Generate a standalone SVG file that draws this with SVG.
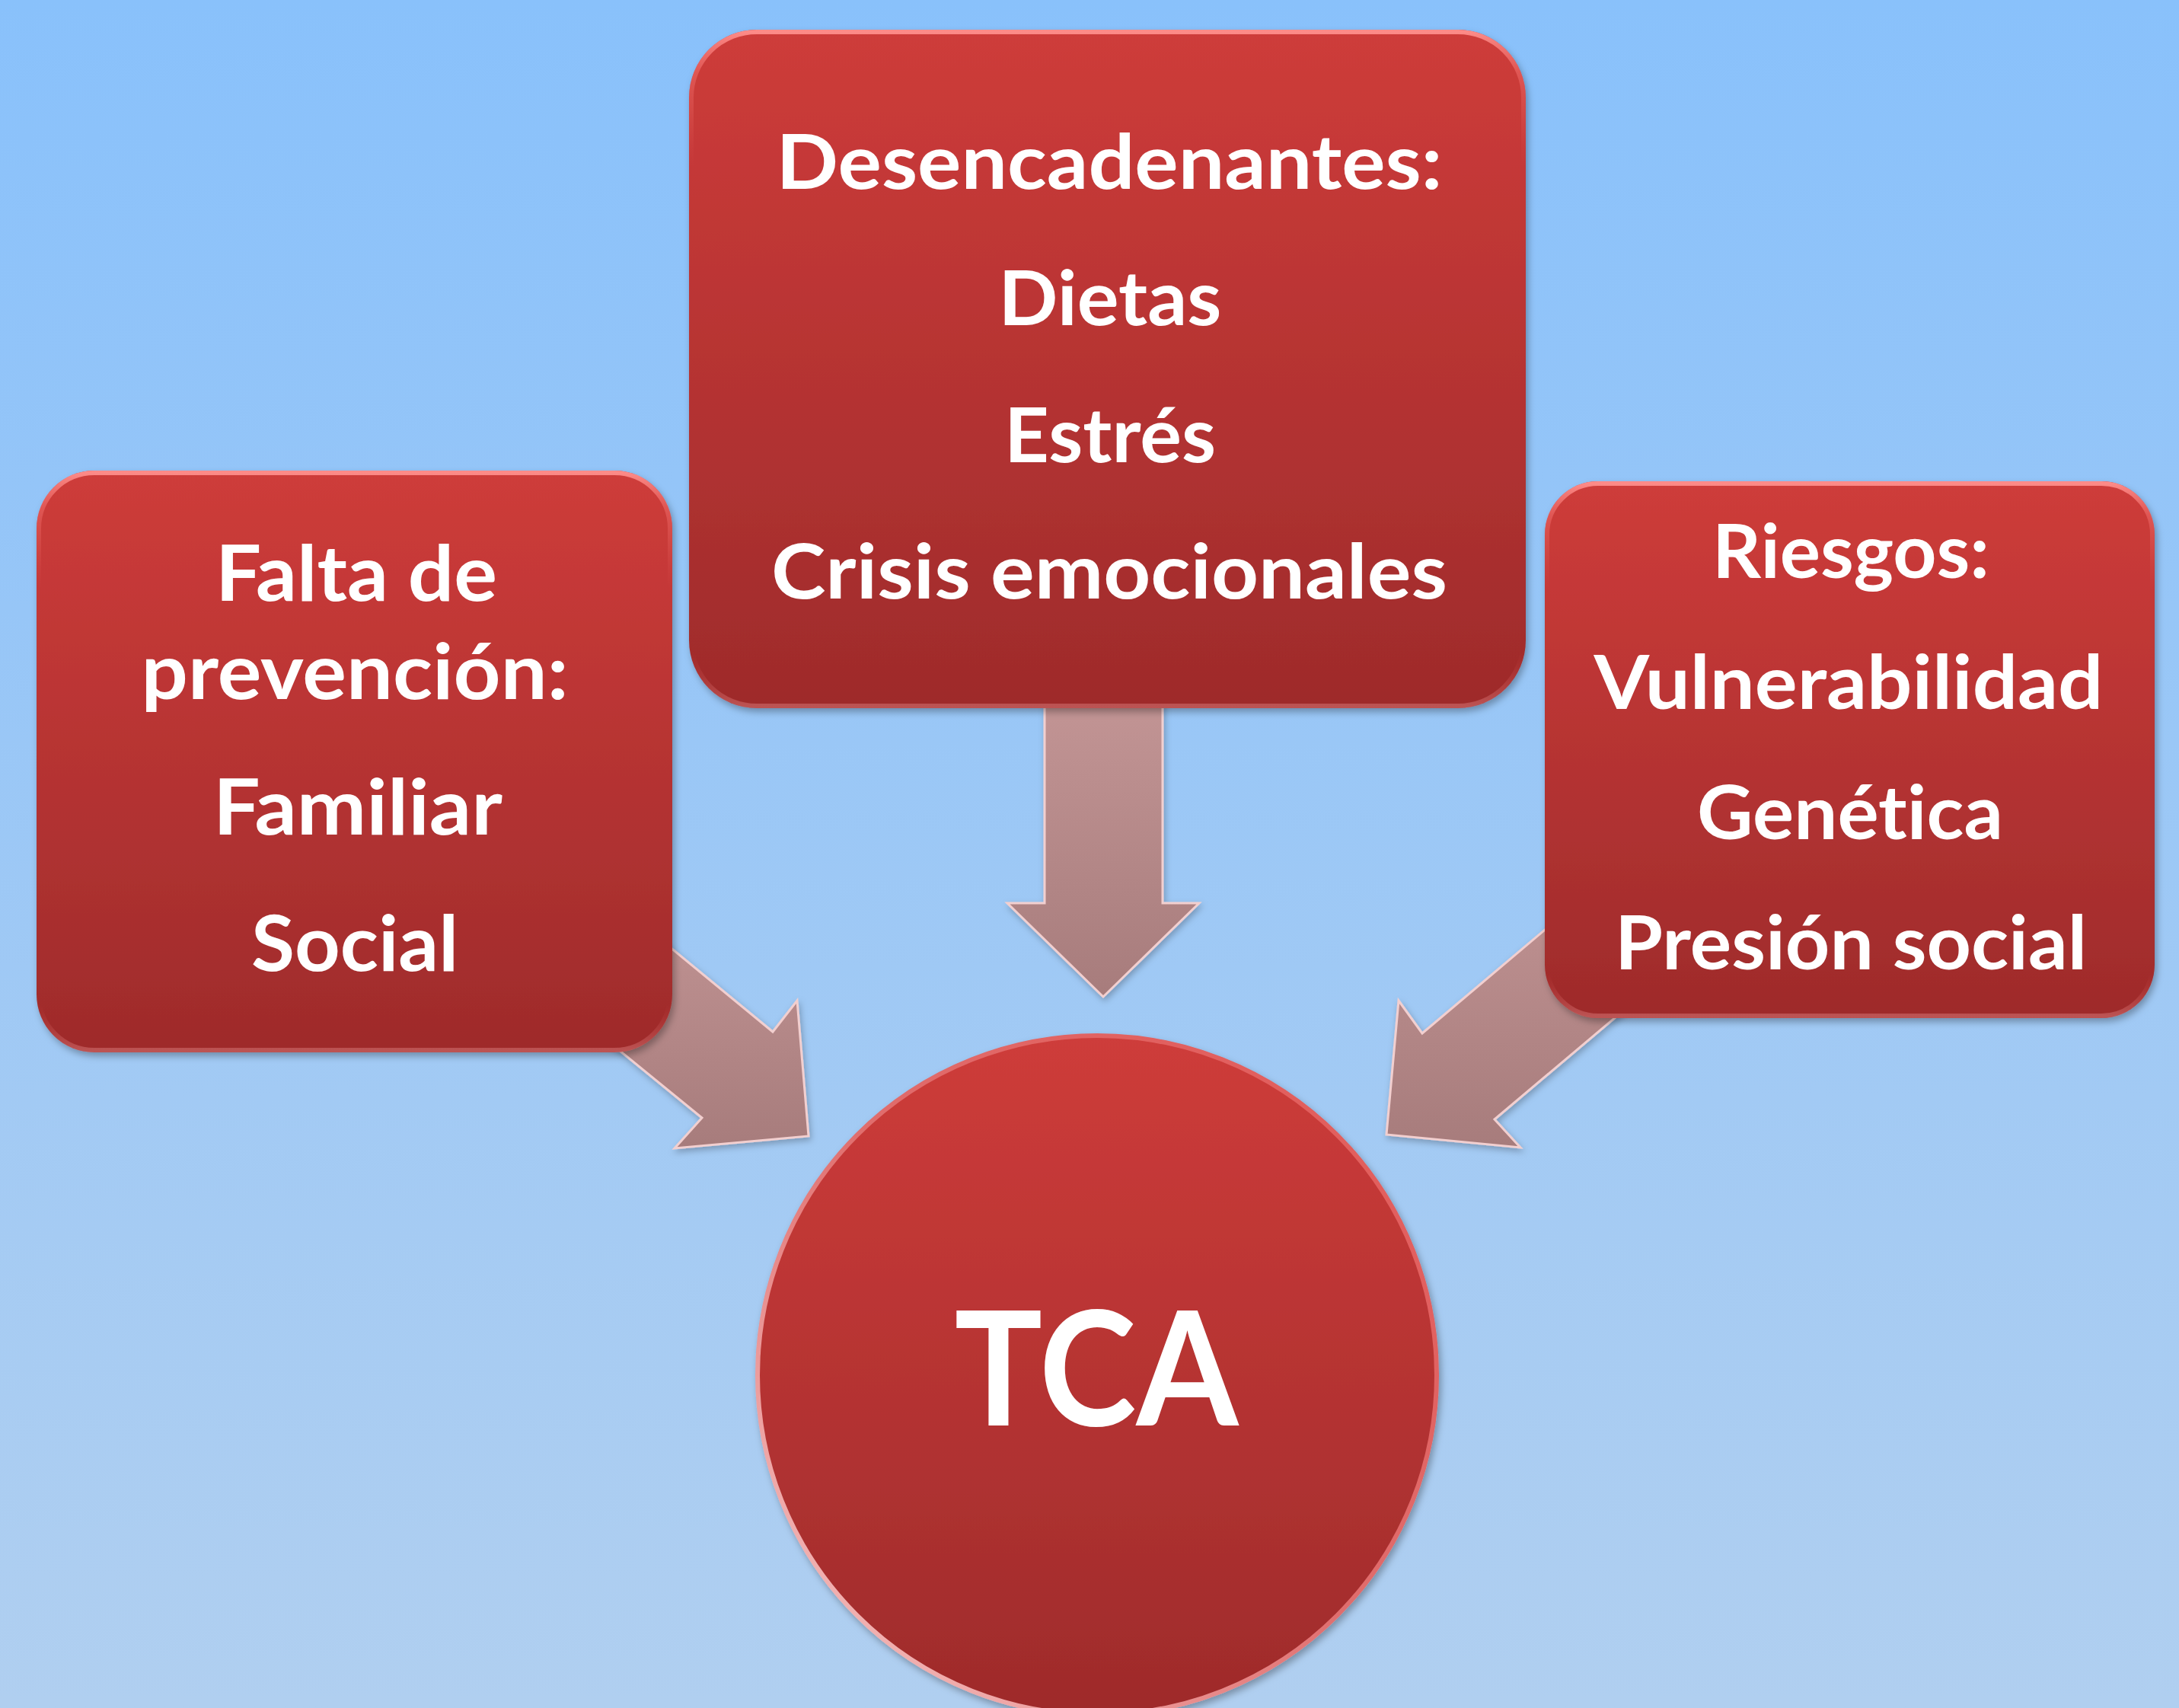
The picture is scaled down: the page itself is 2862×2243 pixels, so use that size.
<svg xmlns="http://www.w3.org/2000/svg" width="2862" height="2243" viewBox="0 0 2862 2243">
  <style>
    .lbl { font-family: Lato, "Open Sans", "Liberation Sans", sans-serif; font-weight: 700; fill: #FFFFFF; text-anchor: middle; font-variant-ligatures: none; font-feature-settings: "liga" 0, "clig" 0; }
    .box { fill: url(#red); filter: url(#sh); }
    .rim { fill: none; stroke: url(#rimGrad); stroke-width: 6; }
    .arrow { fill: url(#arrowGrad); stroke: #F2CFCF; stroke-width: 3; stroke-linejoin: miter; filter: url(#sh2); }
  </style>
  <defs>
    <linearGradient id="bg" x1="0" y1="0" x2="0" y2="1">
      <stop offset="0" stop-color="#89C1FB"/>
      <stop offset="1" stop-color="#B0CFF0"/>
    </linearGradient>
    <linearGradient id="red" x1="0" y1="0" x2="0" y2="1">
      <stop offset="0" stop-color="#CE3C3A"/>
      <stop offset="1" stop-color="#9E2B2B"/>
    </linearGradient>
    <linearGradient id="rimGrad" x1="0" y1="0" x2="0" y2="1">
      <stop offset="0" stop-color="#FF8F8C" stop-opacity="0.95"/>
      <stop offset="0.06" stop-color="#F47270" stop-opacity="0.5"/>
      <stop offset="0.2" stop-color="#E05A58" stop-opacity="0"/>
      <stop offset="0.92" stop-color="#E05A58" stop-opacity="0"/>
      <stop offset="1" stop-color="#F3A0A0" stop-opacity="0.35"/>
    </linearGradient>
    <linearGradient id="circRim" x1="1" y1="0" x2="0" y2="1">
      <stop offset="0" stop-color="#E25856"/>
      <stop offset="0.5" stop-color="#E06E6E"/>
      <stop offset="1" stop-color="#F8CACA"/>
    </linearGradient>
    <linearGradient id="arrowGrad" x1="0" y1="0" x2="0" y2="1">
      <stop offset="0" stop-color="#C59797"/>
      <stop offset="1" stop-color="#A77C7C"/>
    </linearGradient>
    <filter id="sh" x="-10%" y="-10%" width="120%" height="120%">
      <feDropShadow dx="3" dy="5" stdDeviation="5" flood-color="#000000" flood-opacity="0.3"/>
    </filter>
    <filter id="sh2" x="-10%" y="-10%" width="120%" height="120%">
      <feDropShadow dx="2" dy="4" stdDeviation="4" flood-color="#000000" flood-opacity="0.25"/>
    </filter>
  </defs>

  <rect x="0" y="0" width="2862" height="2243" fill="url(#bg)"/>

  <g id="connectors">
    <polygon class="arrow" points="1372,880 1527,880 1527,1186 1575,1186 1449,1309 1323,1186 1372,1186"/>
    <polygon class="arrow" points="755,1141 1015,1355 1047,1314 1062,1492 886,1508 922,1468 704,1290"/>
    <polygon class="arrow" points="2188,1087 1868,1357 1837,1314 1821,1490 1997,1507 1963,1470 2283,1200"/>
  </g>

  <g id="node-desencadenantes">
    <rect class="box" x="905" y="39" width="1099" height="891" rx="89" ry="89"/>
    <rect class="rim" x="908" y="42" width="1093" height="885" rx="86" ry="86"/>
    <text class="lbl" x="1457" y="248" font-size="100" textLength="875" lengthAdjust="spacingAndGlyphs">Desencadenantes:</text>
    <text class="lbl" x="1458" y="427" font-size="100" textLength="293" lengthAdjust="spacingAndGlyphs">Dietas</text>
    <text class="lbl" x="1458" y="607" font-size="100" textLength="278" lengthAdjust="spacingAndGlyphs">Estrés</text>
    <text class="lbl" x="1457" y="786" font-size="100" textLength="888" lengthAdjust="spacingAndGlyphs">Crisis emocionales</text>
  </g>

  <g id="node-prevencion">
    <rect class="box" x="48" y="618" width="835" height="764" rx="76" ry="76"/>
    <rect class="rim" x="51" y="621" width="829" height="758" rx="73" ry="73"/>
    <text class="lbl" x="468" y="789" font-size="102" textLength="370" lengthAdjust="spacingAndGlyphs">Falta de</text>
    <text class="lbl" x="466" y="918" font-size="102" textLength="561" lengthAdjust="spacingAndGlyphs">prevención:</text>
    <text class="lbl" x="470" y="1096" font-size="102" textLength="380" lengthAdjust="spacingAndGlyphs">Familiar</text>
    <text class="lbl" x="466" y="1275" font-size="102" textLength="272" lengthAdjust="spacingAndGlyphs">Social</text>
  </g>

  <g id="node-riesgos">
    <rect class="box" x="2029" y="632" width="801" height="705" rx="70" ry="70"/>
    <rect class="rim" x="2032" y="635" width="795" height="699" rx="67" ry="67"/>
    <text class="lbl" x="2431" y="759" font-size="97" textLength="364" lengthAdjust="spacingAndGlyphs">Riesgos:</text>
    <text class="lbl" x="2428" y="931" font-size="97" textLength="669" lengthAdjust="spacingAndGlyphs">Vulnerabilidad</text>
    <text class="lbl" x="2430" y="1102" font-size="97" textLength="402" lengthAdjust="spacingAndGlyphs">Genética</text>
    <text class="lbl" x="2431" y="1273" font-size="97" textLength="620" lengthAdjust="spacingAndGlyphs">Presión social</text>
  </g>

  <g id="node-tca">
    <circle cx="1441" cy="1806" r="446" fill="url(#red)" stroke="url(#circRim)" stroke-width="6" filter="url(#sh)"/>
    <text class="lbl" x="1440" y="1872" font-size="208" textLength="373" lengthAdjust="spacingAndGlyphs">TCA</text>
  </g>
</svg>
